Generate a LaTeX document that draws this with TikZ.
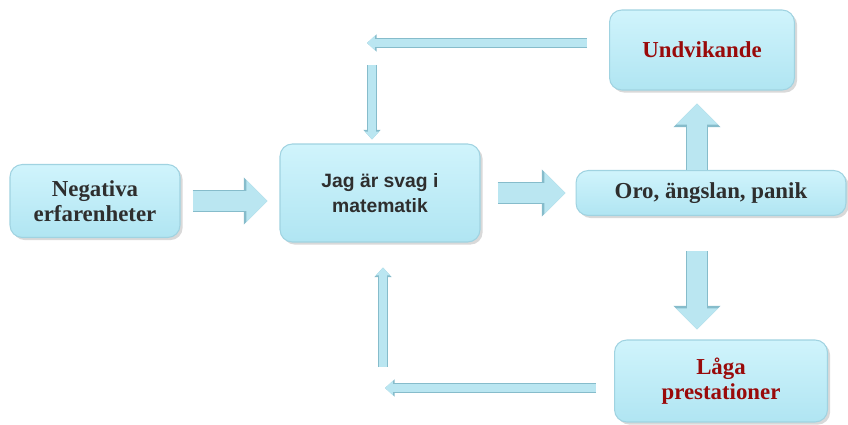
\documentclass[tikz,border=0pt]{standalone}
\usepackage{fontspec}
\setmainfont{Liberation Serif}
\setsansfont{Liberation Sans}
\usetikzlibrary{arrows.meta,shadows}
\definecolor{boxtop}{HTML}{D0F4FC}
\definecolor{boxbot}{HTML}{B0E5F2}
\definecolor{boxedge}{HTML}{A0D3E1}
\definecolor{arrowfill}{HTML}{BAE6F1}
\definecolor{arrowedge}{HTML}{86BCCB}
\definecolor{textgray}{HTML}{2E2E2E}
\definecolor{textred}{HTML}{990A0A}
\tikzset{
  box/.style={rounded corners=7pt, top color=boxtop, bottom color=boxbot, draw=boxedge, line width=0.6pt,
    drop shadow={shadow xshift=1.5pt, shadow yshift=-1.5pt, opacity=0.3},
    align=center, text=textgray, font=\fontsize{13}{14.5}\selectfont\bfseries},
  redtext/.style={text=textred},
  bigarrow/.style={line width=11pt, draw=arrowfill, -{Triangle[width=23pt,length=12pt]},
    preaction={draw=arrowedge, line width=12.5pt, -{Triangle[width=26pt,length=13.5pt]}}},
  thinarrow/.style={line width=4.5pt, draw=arrowfill, -{Triangle[width=8pt,length=4.5pt]},
    preaction={draw=arrowedge, line width=5.5pt, -{Triangle[width=9.5pt,length=5.5pt]}}}
}
\begin{document}
\begin{tikzpicture}[x=0.02cm, y=-0.02cm]
        \useasboundingbox (0,0) rectangle (848,425);

        \node[box, minimum width=3.4cm, minimum height=1.46cm] (neg) at (95,201) {Negativa\\erfarenheter};
        \node[box, minimum width=4cm, minimum height=1.96cm, font=\sffamily\fontsize{11}{14}\selectfont\bfseries] (jag) at (380,193) {Jag är svag i\\matematik};
        \node[box, minimum width=5.4cm, minimum height=0.9cm] (oro) at (711,193) {Oro, ängslan, panik};
        \node[box, redtext, minimum width=3.7cm, minimum height=1.6cm] (und) at (702,50) {Undvikande};
        \node[box, redtext, minimum width=4.26cm, minimum height=1.64cm] (laga) at (721,381) {Låga\\prestationer};

        \coordinate (ctop) at (367,43);
        \coordinate (cdown) at (372,65);
        \coordinate (cup) at (383,367);
        \coordinate (cbot) at (385,388);
        \coordinate (cmid) at (697,0);

        \draw[bigarrow, shorten <=0.24cm, shorten >=0.24cm] (neg.east) -- (neg.east -| jag.west);
        \draw[bigarrow, shorten <=0.34cm, shorten >=0.2cm] (jag.east) -- (jag.east -| oro.west);
        \draw[bigarrow, shorten >=0.26cm] (oro.north -| cmid) -- (und.south -| cmid);
        \draw[bigarrow, shorten <=0.7cm, shorten >=0.2cm] (oro.south -| cmid) -- (laga.north -| cmid);

        \draw[thinarrow, shorten <=0.44cm] (ctop -| und.west) -- (ctop);
        \draw[thinarrow, shorten >=0.08cm] (cdown) -- (cdown |- jag.north);
        \draw[thinarrow, shorten >=0.5cm] (cup) -- (cup |- jag.south);
        \draw[thinarrow, shorten <=0.36cm] (cbot -| laga.west) -- (cbot);
\end{tikzpicture}
\end{document}
